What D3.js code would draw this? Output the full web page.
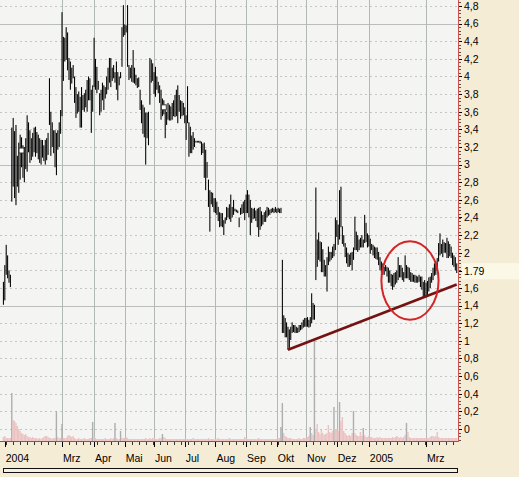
<!DOCTYPE html>
<html>
<head>
<meta charset="utf-8">
<script src="https://cdn.jsdelivr.net/npm/d3@7"></script>
<style>
  body { margin: 0; background: #f5ecd6; }
  svg { display: block; }
  text { font-family: "Liberation Sans", Arial, sans-serif; font-size: 10.5px; fill: #000; }
</style>
</head>
<body>
<svg width="519" height="477"></svg>
<script>
// ---- data: daily high / low per month (trading days Mon-Fri) ----
const firstDay = "2004-01-01", lastDay = "2005-03-31";

const jan04 = [[1.67,1.41],[1.86,1.46],[2.09,1.75],[1.97,1.71],[1.80,1.66],[1.75,1.61],[3.42,2.58],[3.53,2.75],[3.38,2.62],[3.45,2.54],[3.10,2.75],[3.25,2.68],[3.34,2.83],[3.31,2.97],[3.22,2.85],[3.20,2.80],[3.30,2.95],[3.56,2.92],[3.48,3.14],[3.39,3.02],[3.30,3.05],[3.36,3.09]];
const feb04 = [[3.42,3.14],[3.43,3.09],[3.37,3.13],[3.34,3.06],[3.30,3.02],[3.28,3.00],[3.28,3.08],[3.22,3.04],[3.28,3.00],[3.30,3.05],[3.36,3.11],[3.98,3.45],[3.60,3.10],[3.48,3.20],[3.39,3.13],[3.39,2.97],[3.36,2.88],[3.39,3.17],[3.48,3.20],[3.62,3.35]];
const mar04 = [[4.73,3.55],[4.45,3.95],[4.44,4.17],[4.56,4.19],[4.50,4.07],[4.21,3.96],[4.17,3.85],[4.10,3.92],[4.13,3.98],[4.00,3.70],[3.88,3.53],[3.80,3.58],[3.83,3.60],[3.77,3.42],[3.88,3.42],[3.79,3.62],[3.81,3.60],[3.85,3.65],[3.96,3.60],[4.00,3.73],[3.98,3.73],[3.85,3.36],[3.90,3.60]];
const apr04 = [[4.44,3.88],[4.20,3.85],[4.11,3.81],[3.95,3.85],[3.81,3.56],[3.85,3.60],[3.93,3.73],[3.90,3.62],[3.88,3.75],[4.00,3.80],[4.10,3.85],[4.21,3.93],[4.21,3.88],[4.10,3.95],[4.13,3.98],[4.05,3.93],[4.17,3.85],[4.05,3.73],[4.00,3.90],[4.05,3.98],[4.56,4.11],[4.81,4.45]];
const may04 = [[4.59,4.47],[4.58,4.50],[4.81,4.11],[4.13,3.96],[4.10,3.98],[4.13,3.94],[4.30,3.93],[4.10,3.92],[4.02,3.90],[3.98,3.87],[3.99,3.88],[3.85,3.62],[3.73,3.47],[3.68,3.35],[3.65,3.31],[3.59,3.00],[3.59,3.30],[3.60,3.22],[4.21,3.68],[4.19,3.93],[4.15,3.95]];
const jun04 = [[4.05,3.80],[4.11,3.77],[4.00,3.85],[3.94,3.81],[3.90,3.70],[3.85,3.51],[3.75,3.55],[3.73,3.57],[3.65,3.30],[3.60,3.45],[3.70,3.51],[3.68,3.50],[3.66,3.50],[3.70,3.51],[3.73,3.55],[3.79,3.54],[3.85,3.55],[3.90,3.47],[3.79,3.60],[3.73,3.52],[3.72,3.55],[3.70,3.56]];
const jul04 = [[3.65,3.47],[3.56,3.28],[3.89,3.47],[3.48,3.09],[3.43,3.13],[3.33,3.13],[3.37,3.17],[3.30,3.20],[3.27,3.25],[3.27,3.25],[3.27,3.25],[3.27,3.24],[3.26,3.11],[3.24,3.13],[3.25,2.85],[3.17,2.71],[3.03,2.85],[2.83,2.52],[2.71,2.24],[2.69,2.55],[2.68,2.52],[2.62,2.46]];
const aug04 = [[2.62,2.45],[2.58,2.43],[2.52,2.36],[2.46,2.29],[2.45,2.30],[2.45,2.29],[2.37,2.20],[2.40,2.33],[2.52,2.37],[2.51,2.40],[2.55,2.38],[2.66,2.35],[2.52,2.40],[2.60,2.43],[2.50,2.47],[2.49,2.46],[2.48,2.45],[2.40,2.29],[2.51,2.43],[2.55,2.44],[2.58,2.45],[2.60,2.37]];
const sep04 = [[2.66,2.45],[2.71,2.45],[2.66,2.40],[2.60,2.20],[2.51,2.34],[2.50,2.38],[2.51,2.39],[2.48,2.36],[2.50,2.29],[2.51,2.18],[2.52,2.26],[2.47,2.30],[2.43,2.32],[2.46,2.35],[2.48,2.35],[2.52,2.40],[2.51,2.42],[2.49,2.43],[2.50,2.45],[2.51,2.46],[2.50,2.45],[2.52,2.46]];
const oct04 = [[2.50,2.45],[2.51,2.46],[2.50,2.45],[2.51,2.45],[1.92,1.09],[1.29,1.09],[1.26,1.04],[1.21,1.04],[1.16,0.90],[1.13,0.92],[1.16,1.01],[1.21,1.09],[1.18,1.10],[1.18,1.09],[1.16,1.09],[1.15,1.09],[1.18,1.10],[1.18,1.12],[1.21,1.13],[1.24,1.15],[1.26,1.16]];
const nov04 = [[1.26,1.16],[1.27,1.16],[1.24,1.15],[1.27,1.16],[1.54,1.20],[1.43,1.24],[1.41,1.24],[2.74,1.69],[2.15,1.84],[2.23,1.92],[2.13,1.90],[2.12,1.78],[2.04,1.78],[1.92,1.73],[1.86,1.73],[1.95,1.56],[2.07,1.86],[2.01,1.90],[2.01,1.92],[2.07,1.94],[2.10,1.96],[2.40,2.03]];
const dec04 = [[2.37,2.18],[2.32,2.09],[2.71,2.15],[2.75,2.29],[2.30,2.10],[2.20,2.07],[2.11,1.95],[2.06,1.88],[2.00,1.84],[1.98,1.84],[2.00,1.86],[2.01,1.80],[2.06,1.92],[2.41,2.03],[2.24,2.03],[2.20,2.01],[2.15,2.03],[2.17,2.06],[2.20,2.06],[2.15,2.06],[2.43,2.11],[2.34,2.12],[2.22,2.06]];
const jan05 = [[2.20,2.07],[2.16,1.99],[2.10,2.03],[2.09,1.97],[2.07,1.94],[2.06,1.93],[2.06,1.92],[2.01,1.86],[1.95,1.80],[1.90,1.77],[1.88,1.75],[1.84,1.75],[1.86,1.79],[1.84,1.73],[1.83,1.66],[1.80,1.66],[1.76,1.62],[1.75,1.58],[1.77,1.61],[1.78,1.64],[1.80,1.66]];
const feb05 = [[1.95,1.69],[1.86,1.72],[1.86,1.72],[1.83,1.69],[1.78,1.67],[1.97,1.71],[1.86,1.71],[1.84,1.71],[1.83,1.69],[1.78,1.67],[1.77,1.67],[1.75,1.67],[1.75,1.66],[1.74,1.66],[1.73,1.66],[1.75,1.67],[1.73,1.61],[1.73,1.58],[1.67,1.49],[1.69,1.50]];
const mar05 = [[1.66,1.50],[1.68,1.52],[1.72,1.56],[1.73,1.60],[1.77,1.66],[1.83,1.69],[1.88,1.74],[1.90,1.75],[1.94,1.80],[2.11,1.90],[2.22,1.97],[2.10,1.99],[2.15,1.95],[2.12,2.00],[2.11,2.00],[2.17,1.94],[2.13,1.94],[2.10,1.96],[2.07,1.94],[2.00,1.86],[1.97,1.84],[1.95,1.80],[1.88,1.77]];

// volume (thousand shares) per trading day
const volJan04 = [4,5,3,3,3,3,48,21,20,18,15,12,10,8,7,6,7,5,4,4,3,4];
const volFeb04 = [3,3,3,2,3,2,3,4,5,5,4,3,3,2,3,3,30,4,3,3];
const volMar04 = [17,3,3,3,5,6,5,4,5,3,2,2,3,2,2,2,3,2,2,2,3,3,19];
const volApr04 = [4,3,2,2,2,2,2,2,3,2,2,2,3,2,3,18,3,2,2,10,3,3];
const volMay04 = [3,4,3,2,2,2,2,2,2,2,2,2,2,2,2,3,2,2,3,2,3];
const volJun04 = [3,2,2,2,3,3,7,4,3,2,2,2,2,2,2,2,2,2,2,2,2,2];
const volJul04 = [2,2,2,2,2,2,3,2,2,2,2,2,2,2,2,2,2,3,2,2,2,2];
const volAug04 = [2,2,3,2,2,2,2,2,2,2,3,2,2,2,2,2,2,2,2,2,2,4];
const volSep04 = [3,2,2,2,2,2,2,2,2,3,2,2,2,2,2,2,2,2,2,2,2,2];
const volOct04 = [2,3,3,14,38,8,5,4,3,3,3,2,2,2,2,2,3,2,2,3,3];
const volNov04 = [3,4,5,14,8,6,101,12,17,9,7,11,8,6,7,8,16,9,8,10,34,12];
const volDec04 = [12,10,39,20,24,10,8,6,5,6,5,8,30,8,6,5,5,9,5,13,6,4,4];
const volJan05 = [5,4,4,3,3,3,4,3,4,3,3,3,3,3,3,3,3,4,3,4,5];
const volFeb05 = [4,3,4,3,4,6,18,9,4,3,3,3,3,3,3,3,3,3,3,3];
const volMar05 = [3,3,3,4,5,5,4,5,9,4,3,3,3,3,3,3,3,3,3,3,3,3,3];

const monthKeys = ["2004-01","2004-02","2004-03","2004-04","2004-05","2004-06","2004-07","2004-08","2004-09","2004-10","2004-11","2004-12","2005-01","2005-02","2005-03"];
const monthPrices = [jan04,feb04,mar04,apr04,may04,jun04,jul04,aug04,sep04,oct04,nov04,dec04,jan05,feb05,mar05];
const monthVolumes = [volJan04,volFeb04,volMar04,volApr04,volMay04,volJun04,volJul04,volAug04,volSep04,volOct04,volNov04,volDec04,volJan05,volFeb05,volMar05];

// x axis labels
const tickDates  = ["2004-01-02","2004-03-01","2004-04-01","2004-05-03","2004-06-01","2004-07-01","2004-08-02","2004-09-01","2004-10-01","2004-11-01","2004-12-01","2005-01-03","2005-03-01"];
const tickLabels = ["2004","Mrz","Apr","Mai","Jun","Jul","Aug","Sep","Okt","Nov","Dez","2005","Mrz"];

const solidGrid = [1.4, 3.0, 4.6];
const lastPrice = 1.79;

// annotations
const markerDates = ["2004-01-20","2004-06-10"];
const markerValues = [3.16, 3.65];
const trendDates = ["2004-10-13","2005-03-31"];
const trendValues = [0.90, 1.64];
const ellipseDates = ["2005-01-14","2005-03-14"];
const ellipseValues = [1.24, 2.13];

// ---- build ----
const parseDay = d3.utcParse("%Y-%m-%d");
const fmtDay = d3.utcFormat("%Y-%m-%d");
const tradingDays = d3.utcDays(parseDay(firstDay), d3.utcDay.offset(parseDay(lastDay), 1))
    .filter(d => d.getUTCDay() !== 0 && d.getUTCDay() !== 6);
const dayIndex = new Map(tradingDays.map((d, i) => [fmtDay(d), i]));

const bars = [];
monthKeys.forEach((key, m) => {
    const days = tradingDays.filter(d => fmtDay(d).startsWith(key));
    monthPrices[m].forEach((p, k) => {
        bars.push({i: dayIndex.get(fmtDay(days[k])), high: p[0], low: p[1], vol: monthVolumes[m][k]});
    });
});
// spikes in volume are grey, the rest pink
bars.forEach((b, j) => {
    const prev = bars[j - 1];
    b.spike = b.vol >= 25 || (prev && b.vol > 2 * prev.vol);
});

const width = 519, height = 477;
const plotRight = 458, plotBottom = 441;

const x = d3.scaleLinear().domain([-0.5, tradingDays.length - 0.5]).range([2.7, 457.4]);
const y = d3.scaleLinear().domain([0, 4.8]).range([429, 6]);
const yVol = d3.scaleLinear().domain([0, 100]).range([plotBottom, plotBottom - 100]);
const fmtY = d3.formatLocale({decimal: ",", thousands: ".", grouping: [3], currency: ["", ""]}).format(".1~f");
const crisp = v => Math.round(v) + 0.5;

const svg = d3.select("svg");

svg.append("rect").attr("width", width).attr("height", height).attr("fill", "#f5ecd6");
svg.append("rect").attr("width", plotRight).attr("height", plotBottom).attr("fill", "#f4f4f3");

svg.append("clipPath").attr("id", "plot")
  .append("rect").attr("width", plotRight).attr("height", plotBottom);

const plot = svg.append("g").attr("clip-path", "url(#plot)");

// horizontal grid
const yTicks = d3.range(25).map(k => k * 0.2);
plot.append("g").selectAll("line").data(yTicks.filter(v => !solidGrid.some(s => Math.abs(s - v) < 0.01)))
  .join("line")
    .attr("x1", 0).attr("x2", plotRight)
    .attr("y1", d => crisp(y(d))).attr("y2", d => crisp(y(d)))
    .attr("stroke", "#c6c6c6").attr("stroke-dasharray", "2,3");
plot.append("g").selectAll("line").data(solidGrid)
  .join("line")
    .attr("x1", 0).attr("x2", plotRight)
    .attr("y1", d => crisp(y(d))).attr("y2", d => crisp(y(d)))
    .attr("stroke", "#b9bdbb");

// vertical grid at month starts
plot.append("g").selectAll("line").data(tickDates.slice(1))
  .join("line")
    .attr("x1", d => crisp(x(dayIndex.get(d)))).attr("x2", d => crisp(x(dayIndex.get(d))))
    .attr("y1", 0).attr("y2", plotBottom)
    .attr("stroke", "#b2b9b5");

// volume
plot.append("g").selectAll("rect").data(bars)
  .join("rect")
    .attr("x", d => x(d.i) - 0.7)
    .attr("width", 1.4)
    .attr("y", d => yVol(d.vol))
    .attr("height", d => plotBottom - yVol(d.vol))
    .attr("fill", d => d.spike ? "#aeaeae" : "#ecc2c2");

// price bars
plot.append("g").selectAll("rect").data(bars)
  .join("rect")
    .attr("x", d => x(d.i) - 0.5)
    .attr("width", 1.05)
    .attr("y", d => y(d.high))
    .attr("height", d => Math.max(1, y(d.low) - y(d.high)))
    .attr("fill", "#000");

// little event squares
plot.append("g").selectAll("rect").data(markerDates)
  .join("rect")
    .attr("x", (d, k) => x(dayIndex.get(d)) - 2.5)
    .attr("y", (d, k) => y(markerValues[k]) - 2.5)
    .attr("width", 5).attr("height", 5)
    .attr("fill", "#fff").attr("stroke", "#333");

// trend line
plot.append("line")
    .attr("x1", x(dayIndex.get(trendDates[0]))).attr("y1", y(trendValues[0]))
    .attr("x2", x(dayIndex.get(trendDates[1]))).attr("y2", y(trendValues[1]))
    .attr("stroke", "#741212").attr("stroke-width", 2.6);

// circle around the base
const ex1 = x(dayIndex.get(ellipseDates[0])), ex2 = x(dayIndex.get(ellipseDates[1]));
plot.append("ellipse")
    .attr("cx", (ex1 + ex2) / 2).attr("rx", (ex2 - ex1) / 2)
    .attr("cy", (y(ellipseValues[0]) + y(ellipseValues[1])) / 2)
    .attr("ry", (y(ellipseValues[0]) - y(ellipseValues[1])) / 2)
    .attr("fill", "none").attr("stroke", "#d42424").attr("stroke-width", 2);

// borders
svg.append("line").attr("x1", plotRight + 0.5).attr("x2", plotRight + 0.5).attr("y1", 0).attr("y2", plotBottom + 1)
    .attr("stroke", "#c8564e");
svg.append("line").attr("x1", 0).attr("x2", plotRight).attr("y1", plotBottom + 0.5).attr("y2", plotBottom + 0.5)
    .attr("stroke", "#c43c36");

// right axis
const yAxis = svg.append("g");
yAxis.selectAll("line.minor").data(d3.range(-3, 122).map(k => k * 0.04))
  .join("line").attr("class", "minor")
    .attr("x1", plotRight + 1).attr("x2", plotRight + 3)
    .attr("y1", d => crisp(y(d))).attr("y2", d => crisp(y(d)))
    .attr("stroke", "#555");

yAxis.append("rect")
    .attr("x", plotRight + 4).attr("y", y(lastPrice) - 8)
    .attr("width", width - plotRight - 4).attr("height", 16)
    .attr("fill", "#fcf8e8");

const yLabels = yTicks.filter(v => Math.abs(v - 1.8) > 0.01);
yAxis.selectAll("line.major").data(yLabels.concat([lastPrice]))
  .join("line").attr("class", "major")
    .attr("x1", plotRight + 1).attr("x2", plotRight + 4)
    .attr("y1", d => crisp(y(d))).attr("y2", d => crisp(y(d)))
    .attr("stroke", "#000");
yAxis.selectAll("text").data(yLabels)
  .join("text")
    .attr("x", plotRight + 6).attr("y", d => y(d)).attr("dy", "0.36em")
    .text(d => fmtY(d));
yAxis.append("text")
    .attr("x", plotRight + 6).attr("y", y(lastPrice)).attr("dy", "0.36em")
    .text(lastPrice.toFixed(2));

// bottom axis
const xAxis = svg.append("g");
const mondays = tradingDays.map((d, i) => [d, i]).filter(([d]) => d.getUTCDay() === 1);
xAxis.selectAll("line.minor").data(mondays)
  .join("line").attr("class", "minor")
    .attr("x1", d => crisp(x(d[1]))).attr("x2", d => crisp(x(d[1])))
    .attr("y1", plotBottom + 1).attr("y2", plotBottom + 4)
    .attr("stroke", "#333");
xAxis.selectAll("line.major").data(tickDates)
  .join("line").attr("class", "major")
    .attr("x1", d => crisp(x(dayIndex.get(d)))).attr("x2", d => crisp(x(dayIndex.get(d))))
    .attr("y1", plotBottom + 1).attr("y2", plotBottom + 6)
    .attr("stroke", "#000");
xAxis.selectAll("text").data(tickDates)
  .join("text")
    .attr("x", d => x(dayIndex.get(d)) + 1)
    .attr("y", 462)
    .text((d, k) => tickLabels[k]);

// scroll bar frame
svg.append("rect")
    .attr("x", 3.5).attr("y", 468.5).attr("width", 454).attr("height", 4)
    .attr("fill", "#f7f0de").attr("stroke", "#111");
</script>
</body>
</html>
